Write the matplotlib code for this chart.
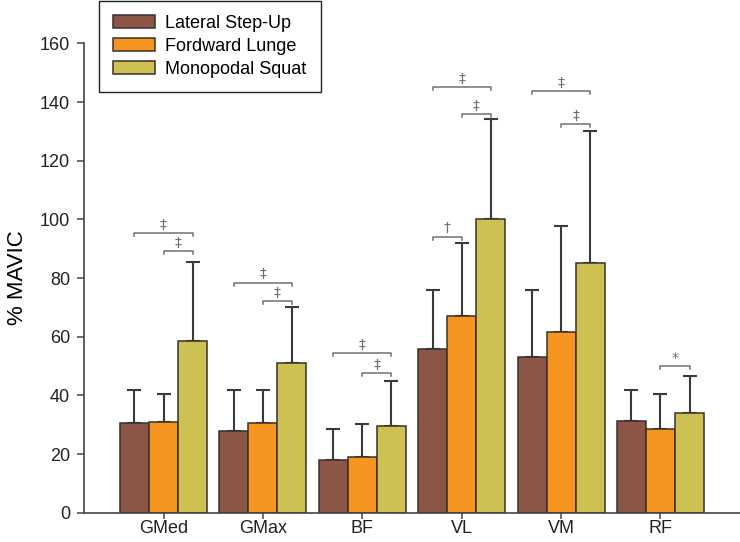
import numpy as np
import matplotlib
matplotlib.use("Agg")
import matplotlib.pyplot as plt

plt.rcParams['font.family'] = ['Liberation Sans', 'DejaVu Sans']

muscles = ['GMed', 'GMax', 'BF', 'VL', 'VM', 'RF']
series = ['Lateral Step-Up', 'Fordward Lunge', 'Monopodal Squat']

step_up = [30.7, 27.8, 18.0, 55.7, 53.0, 31.4]
step_up_sd = [11.0, 14.1, 10.4, 20.2, 22.9, 10.4]
lunge = [31.0, 30.7, 19.1, 67.0, 61.7, 28.4]
lunge_sd = [9.5, 11.0, 11.1, 24.8, 36.1, 12.0]
squat = [58.5, 50.9, 29.6, 100.3, 85.3, 33.9]
squat_sd = [27.1, 19.1, 15.4, 33.9, 44.8, 12.8]

# significance brackets: muscle, bar a, bar b, height, mark
brackets = [
    (0, 0, 2, 95.4, '‡'), (0, 1, 2, 89.2, '‡'),
    (1, 0, 2, 78.4, '‡'), (1, 1, 2, 72.2, '‡'),
    (2, 0, 2, 54.5, '‡'), (2, 1, 2, 47.5, '‡'),
    (3, 0, 1, 94.1, '†'), (3, 0, 2, 145.2, '‡'), (3, 1, 2, 135.9, '‡'),
    (4, 0, 2, 143.7, '‡'), (4, 1, 2, 132.5, '‡'),
    (5, 1, 2, 50.0, '*'),
]

colors = ['#8C5646', '#F5951F', '#CCC152']
means = [step_up, lunge, squat]
sds = [step_up_sd, lunge_sd, squat_sd]

fig = plt.figure(figsize=(7.4, 5.42), dpi=100)
ax = fig.add_axes([84 / 740, 1 - 512.7 / 542, 1 - 84 / 740, (512.7 - 43.4) / 542])

x = np.arange(len(muscles))
w = 0.292
for j in range(3):
    pos = x + (j - 1) * w
    ax.bar(pos, means[j], w, color=colors[j], edgecolor='#3a302b', linewidth=1.1,
           label=series[j], zorder=2)
    ax.errorbar(pos, means[j], yerr=[np.zeros(len(muscles)), sds[j]], fmt='none',
                ecolor='#3a3a3a', elinewidth=1.5, capsize=5, capthick=1.5, zorder=1)

for m, a, b, h, mark in brackets:
    x1 = m + (a - 1) * w
    x2 = m + (b - 1) * w
    ax.plot([x1, x1, x2, x2], [h - 1.0, h, h, h - 1.0], color='#707070', lw=1.1,
            clip_on=False, zorder=3)
    ax.annotate(mark, ((x1 + x2) / 2, h), xytext=(0, 1), textcoords='offset points',
                ha='center', va='bottom', fontsize=10, color='#707070',
                family=['DejaVu Sans'])

ax.set_xlim(-0.8, 5.8)
ax.set_ylim(0, 160)
ax.set_yticks(np.arange(0, 161, 20))
ax.set_xticks(x)
ax.set_xticklabels(muscles)
ax.set_ylabel('% MAVIC', fontsize=16)
ax.yaxis.set_label_coords(-0.085, 0.5)

for s in ['top', 'right']:
    ax.spines[s].set_visible(False)
for s in ['left', 'bottom']:
    ax.spines[s].set_color('#444444')
    ax.spines[s].set_linewidth(1.2)
ax.tick_params(axis='y', direction='out', length=5, width=1.1, pad=5,
               labelsize=13, color='#444444', labelcolor='#222222')
ax.tick_params(axis='x', direction='out', length=4, width=1.1, pad=1,
               labelsize=13, color='#444444', labelcolor='#222222')

leg = ax.legend(loc='upper left', bbox_to_anchor=(99 / 740, 1 - 0.5 / 542),
                bbox_transform=fig.transFigure, fontsize=13, frameon=True,
                fancybox=False, borderpad=0.8, handlelength=2.3,
                handleheight=0.7, handletextpad=0.55, labelspacing=0.32,
                borderaxespad=0)
leg.get_frame().set_edgecolor('#222222')
leg.get_frame().set_linewidth(1.0)
leg.get_frame().set_alpha(1)

fig.savefig('out.png', dpi=100)
